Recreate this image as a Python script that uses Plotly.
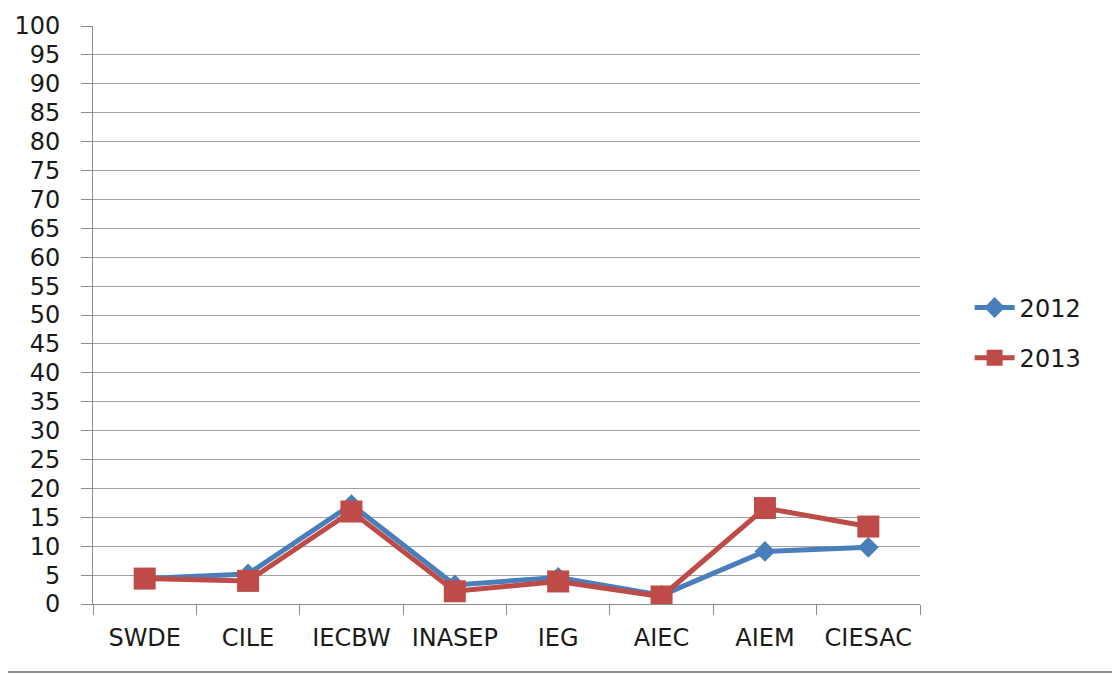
import plotly.graph_objects as go

categories = ["SWDE", "CILE", "IECBW", "INASEP", "IEG", "AIEC", "AIEM", "CIESAC"]
values_2012 = [4.4, 5.2, 17.2, 3.3, 4.6, 1.5, 9.1, 9.8]
values_2013 = [4.4, 4.0, 16.0, 2.2, 3.9, 1.3, 16.6, 13.4]

fig = go.Figure()
fig.add_trace(go.Scatter(
    x=categories, y=values_2012, name="2012", mode="lines+markers",
    legendgroup="a",
    line=dict(color="#4A7EBB", width=5),
    marker=dict(symbol="diamond", size=16, color="#4A7EBB"),
))
fig.add_trace(go.Scatter(
    x=categories, y=values_2013, name="2013", mode="lines+markers",
    legendgroup="b",
    line=dict(color="#BE4B48", width=5),
    marker=dict(symbol="square", size=22, color="#BE4B48"),
))

font_family = "DejaVu Sans, sans-serif"
fig.update_layout(
    width=1112, height=667,
    margin=dict(l=85, r=200, t=18, b=71, autoexpand=False),
    paper_bgcolor="white", plot_bgcolor="white",
    font=dict(family=font_family, size=24, color="#1a1a1a"),
    showlegend=True,
    legend=dict(x=1.06, y=0.469, xanchor="left", yanchor="middle",
                font=dict(size=24), tracegroupgap=16, traceorder="grouped",
                itemwidth=40),
    xaxis=dict(
        type="category", range=[-0.5, 7.5], tickson="boundaries",
        ticks="outside", ticklen=10, tickcolor="#8c8c8c", tickwidth=1,
        showline=True, linecolor="#8c8c8c", linewidth=1,
        showgrid=False, ticklabelstandoff=12, automargin=False,
        tickfont=dict(size=24),
    ),
    yaxis=dict(
        range=[0, 100], dtick=5, tick0=0,
        ticks="outside", ticklen=11, tickcolor="#8c8c8c", tickwidth=1,
        showline=True, linecolor="#8c8c8c", linewidth=1,
        showgrid=True, gridcolor="#a0a0a0", gridwidth=1,
        zeroline=False, ticklabelstandoff=16, automargin=False,
        tickfont=dict(size=24),
    ),
)
fig.add_shape(type="line", xref="paper", yref="paper",
              x0=-85/827, x1=(1112-85)/827, y0=-68/578, y1=-68/578,
              line=dict(color="#8c8c8c", width=2))

fig.write_html("out.html")
